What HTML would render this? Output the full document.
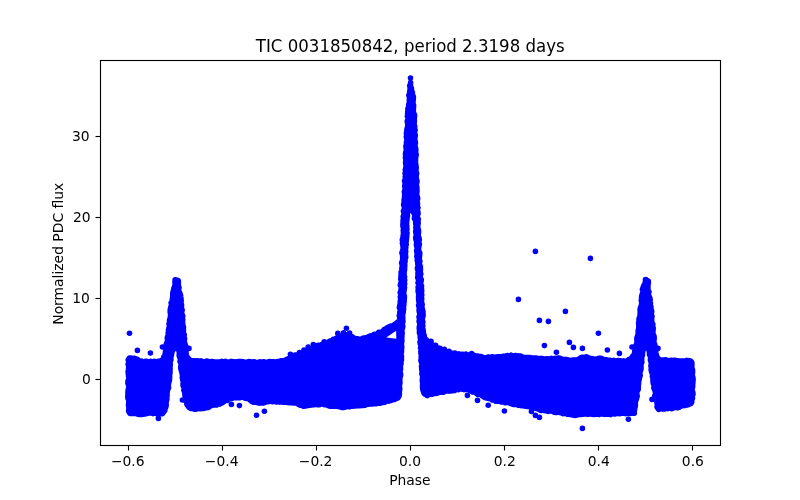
<!DOCTYPE html>
<html lang="en"><head><meta charset="utf-8"><title>TIC 0031850842</title>
<style>html,body{margin:0;padding:0;background:#fff;overflow:hidden}svg{display:block}text{font-family:"DejaVu Sans","Liberation Sans",sans-serif;fill:#000}.t{font-size:13.889px}.ti{font-size:16.667px}</style></head><body>
<svg width="800" height="500" viewBox="0 0 800 500">
<rect x="0" y="0" width="800" height="500" fill="#fff"/>
<g fill="#0000ff" stroke="#0000ff" stroke-width="5.56" stroke-linejoin="round" stroke-linecap="round">
<path d="M128.9,362.3 128.1,364.3 128.8,365.8 128.8,367.4 128.4,370.0 128.1,371.5 128.3,373.3 128.5,375.5 128.8,377.8 129.0,379.4 128.0,380.9 127.9,383.2 128.4,384.5 128.9,386.8 128.4,388.9 128.1,390.7 128.0,392.1 128.0,394.6 127.8,396.2 128.0,398.6 128.9,399.9 128.8,402.1 128.7,404.1 128.5,405.5 129.0,407.7 128.8,409.5 128.6,411.2 129.9,413.4 132.4,413.5 134.5,413.4 136.0,413.4 137.9,414.3 139.6,414.4 141.6,414.5 144.0,414.1 145.6,413.9 147.6,413.2 148.8,412.9 151.5,412.8 153.0,413.7 154.5,412.8 156.8,413.8 159.0,413.3 160.6,413.6 162.4,413.6 163.5,412.3 164.8,410.4 165.0,408.7 165.7,407.2 166.2,405.3 166.0,402.4 166.4,401.1 166.9,398.8 166.7,397.2 167.1,395.5 167.0,393.2 167.1,391.9 167.5,390.2 168.6,387.6 168.0,386.0 168.4,384.5 168.9,381.9 169.5,380.1 169.5,378.7 169.6,376.9 169.6,374.2 170.0,372.9 170.0,370.4 170.1,368.5 169.8,367.0 170.3,364.9 170.1,363.3 170.2,361.4 170.9,359.9 170.7,357.5 171.2,355.9 171.7,353.7 171.8,351.8 172.8,350.4 173.6,349.0 174.2,347.0 176.4,347.8 177.8,348.4 178.6,350.0 179.3,351.5 179.3,353.6 179.2,355.8 179.7,357.0 180.6,359.5 180.0,361.5 181.1,363.4 181.0,365.3 180.7,367.3 180.8,368.3 181.3,370.4 181.9,372.2 182.2,373.9 182.5,375.9 182.3,377.7 182.9,380.5 183.4,382.2 183.0,384.0 183.1,385.8 184.6,387.8 183.8,389.9 184.3,391.2 184.9,392.8 184.9,395.4 185.8,397.2 185.9,398.4 185.9,401.2 186.9,402.5 186.9,404.6 188.2,406.2 189.4,407.7 190.6,408.4 193.1,408.2 194.2,409.3 196.7,409.0 198.4,408.0 200.2,408.7 202.1,408.2 203.7,408.4 205.6,407.8 208.2,407.6 209.4,406.6 210.8,405.8 212.5,405.2 214.2,404.7 216.6,405.0 217.8,404.1 219.9,403.9 221.6,403.1 223.9,401.7 224.8,400.5 227.2,400.5 228.5,399.1 230.3,398.8 231.9,398.4 234.4,397.6 236.2,397.8 237.5,397.5 240.1,397.7 241.5,397.2 243.9,397.1 244.9,398.2 247.5,398.4 249.2,399.2 250.8,400.6 252.2,401.7 253.8,402.3 256.0,402.0 257.7,402.8 259.2,403.1 260.8,402.7 263.3,403.0 265.1,402.3 266.7,401.7 269.2,401.5 270.2,400.9 272.9,401.8 274.6,401.0 276.6,402.0 277.8,401.0 279.6,402.1 282.0,401.9 284.1,402.3 286.1,402.3 287.9,402.6 289.5,402.7 291.1,402.6 293.4,403.0 294.8,402.7 297.4,403.4 298.5,404.4 300.2,405.1 301.9,405.2 303.6,406.3 306.4,405.8 307.6,405.4 309.6,405.2 311.5,405.0 313.7,404.8 315.4,404.3 317.8,404.8 319.0,404.8 321.7,403.9 322.8,404.0 324.6,404.8 326.8,404.7 328.2,405.6 330.5,406.3 332.1,406.0 334.7,406.1 336.5,406.3 338.3,406.5 340.1,406.9 341.7,407.5 344.0,407.4 346.1,406.8 347.4,406.4 349.1,406.8 350.9,406.1 353.3,406.1 354.9,405.9 357.2,405.8 359.4,405.8 360.7,405.3 363.0,405.4 364.8,405.3 366.4,404.4 367.8,404.2 369.6,403.7 372.1,404.0 374.2,403.5 376.1,403.8 377.8,402.9 380.1,403.2 381.4,402.2 383.5,402.5 385.4,402.0 386.7,400.9 388.6,401.1 391.0,400.3 392.6,399.8 394.4,399.5 396.4,398.4 398.1,397.8 399.0,396.1 399.4,394.0 399.0,392.4 399.6,390.4 399.7,388.2 399.3,386.3 399.5,384.8 399.9,383.3 399.8,380.6 399.8,379.0 400.0,377.0 400.6,375.4 400.5,373.6 399.8,371.5 400.5,369.7 400.5,367.8 400.2,365.3 401.0,364.0 400.9,361.6 401.5,359.9 401.3,357.8 401.5,356.3 400.8,354.4 401.4,352.2 401.5,350.3 401.5,348.8 401.8,347.1 401.4,344.7 401.5,343.4 401.9,340.8 401.7,339.6 401.8,337.5 401.9,335.5 402.1,333.7 402.0,331.6 401.6,330.0 402.5,328.0 402.8,326.2 402.1,324.1 402.9,321.9 402.8,320.6 402.7,318.0 402.6,316.0 402.6,314.4 403.2,312.4 403.2,311.0 403.6,308.9 403.2,307.0 403.8,305.4 403.8,303.5 404.2,300.8 404.1,299.7 404.4,297.5 404.2,295.6 403.5,293.8 403.8,292.0 404.1,289.9 404.5,287.6 403.7,285.6 404.7,284.0 404.1,282.1 404.7,280.1 403.9,278.0 404.6,276.9 404.1,275.1 404.0,272.3 404.4,270.7 404.6,268.8 404.6,266.6 404.8,265.3 404.6,263.7 405.1,261.2 404.8,259.1 405.7,257.7 405.6,256.0 405.4,254.0 405.7,251.4 405.4,249.5 405.8,247.7 405.4,246.6 406.3,244.5 405.7,242.1 406.3,240.8 406.5,238.1 406.7,236.5 406.8,234.5 407.0,232.9 406.2,230.9 406.9,229.5 406.7,226.9 406.7,225.5 406.5,223.4 406.7,221.7 406.9,219.4 407.0,217.8 407.5,215.6 406.8,214.3 408.1,211.9 408.3,210.0 408.4,208.3 410.3,208.0 411.6,208.4 412.9,209.1 413.2,210.7 413.8,212.9 414.9,214.9 414.7,216.3 414.4,218.5 415.5,219.9 415.7,222.2 415.7,223.7 416.2,226.3 415.8,227.4 416.2,229.6 415.7,231.3 416.1,233.9 416.7,235.4 415.7,237.2 415.9,239.2 416.5,240.8 416.6,243.5 416.4,245.1 417.0,246.9 417.2,248.8 416.6,250.8 417.0,252.7 417.3,254.1 416.8,256.7 417.7,258.3 417.2,260.1 417.7,261.9 417.8,264.1 418.2,265.4 417.4,268.2 417.6,269.4 418.5,271.9 417.9,273.0 418.1,275.0 417.7,277.7 418.3,278.8 418.6,281.1 418.0,282.9 419.1,284.7 418.1,287.0 418.4,289.0 418.1,290.8 418.4,292.8 419.0,294.3 418.5,296.3 418.7,297.8 418.6,299.6 419.0,301.6 419.2,303.7 418.6,305.5 419.5,307.5 419.1,309.3 419.2,311.7 419.9,313.7 419.7,315.0 419.0,316.9 419.6,319.0 419.1,321.4 419.6,323.0 420.2,324.3 419.3,326.8 419.3,328.9 419.6,330.0 419.4,332.8 420.2,334.6 420.2,335.7 420.3,338.0 420.6,340.1 420.0,342.3 420.4,344.0 421.1,345.9 420.5,348.0 421.4,349.3 420.8,351.8 421.0,353.6 421.4,355.0 421.2,357.0 421.3,358.8 420.9,360.5 421.7,362.9 422.1,364.7 421.5,366.2 421.7,368.2 421.9,370.5 422.3,372.0 421.8,373.8 422.7,376.1 422.6,377.7 422.4,379.3 422.4,381.8 422.9,383.4 422.5,385.6 422.6,387.6 422.9,389.9 423.3,391.0 424.2,393.5 425.5,394.5 427.3,395.6 428.4,394.5 430.5,394.2 432.1,394.3 433.5,393.4 435.5,393.4 437.7,393.1 439.0,391.8 441.4,392.3 443.6,392.2 444.9,390.9 447.5,390.9 448.6,391.1 450.4,390.9 452.3,390.8 454.8,390.4 456.1,389.3 458.2,389.6 459.8,388.9 462.3,389.1 464.1,389.7 465.7,389.2 468.2,389.6 469.6,390.4 471.0,390.4 472.4,392.0 475.1,392.3 476.7,393.5 477.7,394.5 480.5,394.5 481.6,395.2 483.3,396.5 485.0,397.6 486.8,398.1 488.9,398.6 491.0,398.9 492.1,399.9 494.6,400.3 495.5,401.1 498.4,401.1 499.3,401.4 501.6,402.0 504.0,401.7 504.9,402.8 507.2,402.3 509.3,402.8 511.0,403.7 513.1,404.4 514.9,404.5 516.7,403.9 518.4,405.4 520.3,405.0 521.7,405.8 523.6,405.8 525.8,406.3 527.6,406.5 529.4,406.5 531.9,407.6 533.4,407.5 535.1,408.0 536.9,408.6 538.7,409.2 541.1,410.4 542.9,410.1 544.3,410.5 545.9,410.8 548.3,411.4 550.4,410.7 552.5,411.1 554.1,412.2 556.2,412.5 558.1,411.9 559.6,412.6 561.1,412.8 563.0,413.6 564.8,413.0 567.4,414.2 568.4,414.2 570.3,414.6 572.7,414.9 574.5,415.4 576.6,415.0 578.2,414.5 580.6,414.5 582.3,414.3 584.4,414.1 585.8,413.5 587.9,414.3 589.3,413.1 591.0,414.0 593.9,414.5 595.0,414.3 596.8,414.1 599.2,414.4 600.6,413.8 603.2,414.1 604.5,414.1 606.9,414.3 609.0,414.3 610.6,414.6 612.5,413.6 614.6,414.0 616.7,413.3 618.0,413.5 620.2,413.6 622.0,413.1 623.8,413.0 625.6,413.6 627.4,413.2 629.3,413.5 631.3,413.2 634.3,413.1 634.2,411.0 634.5,410.1 634.7,408.2 635.3,406.2 635.3,404.2 635.3,401.7 635.9,400.4 636.4,398.9 637.2,396.1 636.8,394.2 636.8,392.9 637.0,391.0 638.2,389.5 638.2,386.9 638.3,385.6 638.6,383.5 638.6,381.2 639.1,380.0 639.6,377.2 640.2,375.6 639.9,373.5 639.9,371.6 640.9,369.9 641.0,368.1 641.0,366.6 640.9,364.4 641.9,362.3 641.6,361.1 641.7,358.5 641.7,356.9 642.5,354.9 642.4,353.6 642.7,350.9 643.2,350.0 643.9,348.0 645.7,346.7 647.2,347.6 649.0,348.8 649.1,350.8 649.5,352.8 649.5,354.8 650.3,355.8 650.6,357.9 650.4,360.1 650.9,361.4 651.4,363.3 650.9,366.1 651.7,367.1 651.1,369.5 651.5,371.4 652.2,373.1 652.6,375.5 652.4,376.7 653.3,378.8 652.9,380.3 653.2,383.1 653.6,384.3 654.4,386.1 653.8,387.9 654.7,389.7 655.3,391.7 655.7,394.2 654.8,395.6 656.3,397.4 655.6,399.8 656.9,401.5 657.1,403.7 657.6,405.4 657.0,406.9 658.7,409.4 660.3,408.6 662.4,408.9 664.7,409.0 666.6,408.0 667.9,408.6 669.5,407.7 671.6,408.6 674.1,407.6 675.7,407.2 677.1,407.8 679.5,407.2 681.1,405.9 683.1,405.5 684.4,405.6 687.1,404.9 688.6,404.6 690.8,403.5 691.7,402.3 691.7,400.1 692.5,398.2 692.1,396.9 693.0,394.2 692.8,392.4 692.4,390.9 691.9,388.8 692.7,386.8 692.6,384.9 692.8,383.3 692.9,381.3 693.1,379.7 692.9,377.6 692.2,375.3 692.4,373.9 692.6,371.4 692.5,369.8 691.8,367.9 691.8,366.5 691.9,364.0 691.8,362.3 690.9,361.3 689.1,360.8 686.7,360.4 685.5,361.1 682.8,361.0 681.4,361.0 679.7,361.0 677.3,360.8 675.6,360.3 673.4,360.4 671.5,360.2 670.2,360.4 667.8,360.8 665.6,359.8 663.9,360.0 662.1,360.2 660.7,359.9 658.7,359.2 657.3,357.8 656.7,356.2 656.2,354.5 655.8,352.5 655.6,351.1 655.4,349.0 654.8,347.3 654.8,344.5 654.3,343.5 653.7,341.6 654.1,339.7 654.2,337.4 653.9,335.7 652.8,333.5 652.9,331.9 653.0,330.2 653.2,328.0 652.5,325.8 652.9,324.5 651.7,322.0 651.7,320.3 651.6,318.0 652.0,316.4 651.4,314.9 651.5,312.4 651.7,311.0 650.9,308.9 650.9,306.8 650.1,305.2 650.5,303.4 649.6,301.7 650.2,299.9 649.7,297.7 648.7,295.6 648.4,293.6 649.0,291.9 648.0,289.9 647.8,288.1 648.0,286.2 648.0,284.4 648.4,282.9 648.0,281.1 645.9,279.9 645.3,282.1 645.1,283.9 644.1,285.1 643.4,286.7 642.4,289.4 643.1,291.2 642.8,292.9 642.1,294.6 641.6,296.5 641.6,298.2 641.3,300.8 641.9,302.0 641.7,303.8 641.1,306.4 640.4,307.8 640.1,309.4 640.2,311.5 640.1,314.0 640.1,316.0 639.8,317.0 639.0,318.8 639.0,321.5 638.6,322.6 638.8,325.0 638.9,326.3 638.8,328.5 638.2,330.6 638.2,332.4 638.1,334.9 637.6,335.8 636.9,337.8 636.9,339.7 637.0,342.4 636.6,344.1 635.9,345.4 635.5,347.4 635.7,349.3 634.8,350.7 634.6,353.0 634.1,355.0 633.0,355.9 631.8,357.6 630.7,359.9 628.6,359.6 627.5,361.1 625.0,361.2 623.7,360.9 621.5,361.5 619.9,360.7 618.4,360.6 615.6,361.1 613.6,360.4 612.3,361.2 610.1,360.3 608.5,360.6 606.5,359.7 605.0,359.8 603.0,359.2 601.0,358.3 599.4,358.3 597.5,358.7 595.4,359.0 593.6,359.7 592.3,358.5 589.5,358.3 588.2,357.5 586.3,356.7 584.1,357.8 582.5,357.2 580.2,358.1 578.8,359.2 576.8,359.8 575.3,360.2 573.3,359.9 571.4,360.4 569.3,361.1 568.4,359.9 566.2,359.5 563.7,359.6 561.8,359.1 560.3,358.4 558.6,358.0 556.3,358.4 555.1,358.4 553.0,358.9 551.4,358.4 548.6,359.1 547.0,358.8 545.5,359.2 543.1,358.8 541.7,358.4 539.7,358.6 538.1,358.5 535.8,358.1 534.0,358.0 532.1,358.2 530.1,357.5 527.9,357.6 526.3,357.6 524.1,357.4 522.2,356.9 520.5,356.1 518.6,356.0 517.1,355.8 515.1,355.5 512.9,356.3 510.9,355.4 509.1,356.3 507.8,355.6 505.7,356.0 503.9,356.2 501.8,356.5 499.8,356.7 498.2,356.8 495.8,357.1 494.6,357.4 492.1,356.8 490.4,357.3 488.4,357.1 486.7,357.4 484.4,357.7 483.3,357.6 481.4,356.6 478.7,356.3 477.3,356.0 475.8,356.3 473.2,355.0 471.8,355.0 470.1,355.1 467.6,355.0 465.8,354.0 464.4,354.5 462.0,354.3 460.3,354.7 458.9,353.9 456.7,354.4 455.0,353.0 452.8,353.4 451.2,353.4 449.3,353.0 447.4,352.6 445.6,351.9 443.5,350.5 442.3,350.4 440.3,349.2 438.3,348.2 436.9,347.5 435.3,346.6 433.9,345.8 432.3,344.7 430.4,343.1 429.0,342.8 427.9,341.3 426.4,339.9 424.7,338.5 424.3,336.4 424.0,334.9 422.9,333.4 423.4,331.6 422.9,329.2 422.4,327.7 422.8,325.6 422.4,324.1 422.9,322.1 422.2,319.5 422.2,317.5 423.1,316.3 423.0,314.2 423.0,311.8 422.7,310.5 422.3,308.9 421.7,307.0 422.2,304.5 421.6,302.4 421.5,301.0 421.7,298.5 421.3,297.2 421.8,294.7 421.1,293.7 421.7,291.2 421.5,289.4 421.3,287.1 421.6,285.9 420.4,284.0 420.9,282.1 421.3,279.5 420.3,278.3 420.0,276.6 420.8,273.9 420.2,272.3 420.4,270.3 420.4,268.7 420.4,266.9 419.4,264.4 419.5,263.1 419.9,261.0 419.0,259.3 419.4,257.4 419.6,254.9 419.8,253.1 418.9,251.3 418.6,249.3 418.5,247.5 419.0,246.0 419.4,244.2 418.6,242.1 419.3,239.8 419.0,237.8 418.2,236.5 418.2,234.0 418.5,232.7 418.5,230.3 417.9,228.4 417.7,226.9 417.8,225.1 418.2,222.9 417.8,221.1 418.3,219.2 417.2,216.9 417.2,215.9 418.1,213.5 417.7,211.3 417.1,209.5 418.0,207.8 417.1,205.6 417.6,203.6 416.8,201.9 417.3,200.4 417.7,198.5 417.2,196.7 416.7,195.0 416.8,192.7 417.0,191.0 416.8,188.6 416.8,186.9 416.2,185.0 416.6,183.4 417.0,181.1 416.4,178.9 416.1,177.7 416.2,175.2 416.7,173.2 415.9,171.7 416.0,169.4 416.2,167.9 416.0,166.0 415.6,163.8 415.4,162.0 415.5,160.8 415.5,158.5 415.8,156.8 416.2,154.3 415.6,153.0 415.8,150.5 415.7,148.6 415.3,147.3 414.8,145.0 415.5,142.9 415.0,141.1 414.7,139.6 415.0,137.2 415.3,135.2 414.5,134.1 414.6,132.1 415.1,130.0 414.3,127.8 414.8,126.5 413.9,124.0 414.3,122.0 414.3,120.6 414.2,118.9 414.5,116.9 414.5,114.9 413.6,112.9 413.2,110.9 413.4,108.7 413.5,106.8 413.6,105.0 412.7,103.4 413.1,101.4 413.2,99.3 413.4,97.3 413.2,96.1 412.0,94.3 412.4,92.5 411.4,90.2 411.4,88.0 410.6,86.8 409.7,85.5 410.1,87.5 410.1,90.2 409.7,91.6 409.6,93.7 408.8,95.2 409.5,97.0 409.4,99.3 409.4,100.6 409.3,102.9 408.7,104.9 408.6,107.1 407.9,108.8 408.0,110.6 407.7,112.0 407.7,114.3 407.4,116.5 408.4,117.7 407.7,119.8 407.2,121.6 407.8,123.7 407.8,125.3 407.3,128.1 406.9,129.4 406.9,131.1 406.4,133.6 407.1,135.5 406.3,136.6 406.9,139.2 407.0,140.7 406.4,142.5 406.6,144.3 405.9,146.2 406.2,148.8 406.4,150.6 405.7,152.4 405.5,154.4 405.8,155.9 405.4,157.6 406.1,160.0 405.6,161.7 405.7,163.4 406.1,165.7 406.0,167.0 405.3,169.9 405.8,171.5 405.1,173.3 405.7,175.2 405.2,176.6 405.6,178.4 404.5,181.0 405.3,182.9 405.0,184.2 404.7,186.7 405.4,188.4 404.8,190.4 404.3,191.7 404.9,194.4 404.6,196.3 404.5,197.9 404.1,200.0 404.2,201.7 403.8,203.7 403.6,205.0 404.5,207.1 404.2,209.5 403.4,211.1 404.2,213.0 403.8,215.0 403.2,216.7 403.5,218.9 403.1,220.5 403.1,222.7 402.9,224.5 403.0,226.6 403.6,228.2 403.3,230.4 403.4,231.9 403.5,233.8 403.1,236.2 402.9,238.1 402.3,239.9 403.1,242.0 402.4,243.1 402.9,245.4 403.1,246.9 403.1,249.0 402.4,251.3 401.9,252.8 402.5,254.4 402.7,257.0 402.7,258.5 402.7,260.3 401.6,262.8 402.2,264.7 402.3,266.5 401.8,268.2 402.1,269.9 401.1,272.3 401.2,274.1 401.0,275.4 401.0,277.7 400.7,279.2 401.4,281.2 401.0,282.8 400.3,285.3 401.3,286.9 401.1,289.5 401.0,290.6 400.2,292.7 401.0,294.7 400.3,297.0 400.9,298.1 400.3,300.9 400.3,302.0 400.1,304.4 399.7,305.9 399.4,307.8 400.4,309.7 400.0,311.3 399.6,314.0 399.3,315.7 399.9,317.7 399.5,319.6 398.8,321.6 397.4,322.3 396.3,323.5 394.3,324.7 393.1,325.6 391.3,326.0 389.5,326.6 387.2,327.8 386.0,328.7 383.9,329.8 383.1,331.3 381.0,332.2 378.7,332.3 377.6,333.7 375.8,334.5 374.3,334.3 372.2,335.9 370.7,335.8 368.7,336.6 366.8,337.6 365.0,337.9 363.4,338.1 361.3,339.0 360.0,339.7 357.7,338.7 355.6,338.5 353.9,338.1 352.4,336.9 350.8,336.2 349.3,335.7 348.0,334.8 346.0,334.8 344.0,335.2 342.0,335.7 339.8,336.8 338.4,337.7 336.3,338.2 335.4,338.9 333.3,339.3 331.3,341.1 329.8,341.1 327.8,342.3 326.8,343.2 324.2,344.0 322.4,344.2 321.1,344.8 319.5,345.4 317.6,345.4 315.3,346.7 313.8,347.9 311.8,348.4 310.1,349.3 308.5,350.4 307.2,350.2 305.2,351.2 304.0,352.6 302.1,352.7 299.7,353.7 298.7,355.0 296.2,355.1 294.9,355.1 292.7,357.0 291.8,357.4 289.9,358.5 287.9,358.7 286.7,359.5 284.1,360.8 282.4,360.9 280.9,360.8 278.4,361.8 277.0,361.6 274.6,362.1 273.3,361.8 271.3,361.7 269.4,361.6 267.9,362.2 265.4,362.3 264.0,361.7 261.7,362.6 259.9,361.7 257.8,362.6 255.7,362.5 254.2,361.7 251.9,362.3 250.0,361.8 248.7,361.6 246.2,362.4 244.8,362.3 242.9,361.8 240.8,361.5 239.2,361.5 237.3,361.8 235.5,362.1 233.6,361.7 231.2,361.4 229.5,361.9 227.5,362.3 225.4,361.3 223.4,361.9 221.7,361.4 220.0,362.0 217.7,362.1 216.4,362.1 214.2,361.9 212.0,361.5 210.0,362.1 208.2,361.4 206.6,361.1 204.5,362.0 203.2,361.8 200.8,360.9 198.6,361.3 197.4,360.7 195.0,361.0 193.4,360.7 191.4,360.8 189.5,360.1 188.7,358.6 187.4,357.9 186.5,355.3 186.0,353.4 186.0,351.8 185.5,350.3 185.4,348.5 185.7,346.3 185.2,344.5 184.4,342.5 184.3,340.6 184.6,338.6 183.8,337.0 184.3,334.5 183.3,333.6 183.4,330.9 183.3,329.0 183.5,327.0 182.9,325.6 182.7,323.9 182.5,322.0 182.7,319.5 182.2,317.5 182.8,315.8 181.9,314.6 181.7,311.8 182.2,309.9 181.1,308.1 181.5,306.5 181.5,304.5 180.8,302.7 181.2,300.9 181.1,299.5 180.7,296.8 180.6,295.6 179.9,293.4 179.0,291.2 178.5,289.3 179.0,287.8 178.4,285.5 178.1,284.1 178.4,282.0 177.4,280.4 175.5,280.8 174.9,282.4 175.3,283.9 174.6,286.3 173.9,288.4 173.8,289.5 173.2,291.4 172.8,293.4 172.8,295.8 172.7,297.2 172.3,299.5 172.3,301.1 171.1,302.8 171.6,304.6 171.0,306.5 170.5,308.4 170.2,310.0 170.2,312.5 170.7,314.2 170.4,316.3 170.4,318.3 169.6,319.5 169.5,322.2 169.0,324.1 169.8,325.2 169.1,327.4 168.5,329.8 168.5,331.7 168.2,332.9 168.3,335.0 167.4,337.2 167.3,338.2 167.6,340.8 167.1,342.5 166.2,344.5 167.2,346.1 166.9,348.1 165.8,350.0 165.5,351.3 165.3,353.6 164.9,355.6 163.8,356.9 163.5,358.9 162.2,360.0 160.1,361.0 158.3,361.2 156.4,362.1 154.6,361.2 153.0,362.2 150.8,361.3 148.7,362.2 146.8,361.3 145.1,361.4 143.6,362.2 141.4,361.1 138.9,361.2 137.7,359.6 136.6,359.1 134.5,358.3 132.4,358.6 131.1,358.1 129.4,358.1 128.2,359.8Z M410.6,82.4 L410.4,85 L410.9,88 L410.7,93 L411,99 M175.6,280.2 L176.6,283 L176.2,287 L176.5,292 M646,279.8 L646.8,283 L646.3,287 L646.4,292"/>
</g>
<polygon points="386.3,337.6 396.1,330.8 396.3,338.8" fill="#fff"/>
<g fill="#0000ff" stroke="none">
<circle cx="129.5" cy="333.3" r="2.78"/>
<circle cx="137.4" cy="350.4" r="2.78"/>
<circle cx="150.4" cy="353.0" r="2.78"/>
<circle cx="162.4" cy="347.0" r="2.78"/>
<circle cx="189.0" cy="348.4" r="2.78"/>
<circle cx="158.4" cy="418.4" r="2.78"/>
<circle cx="182.4" cy="400.0" r="2.78"/>
<circle cx="231.4" cy="404.4" r="2.78"/>
<circle cx="239.4" cy="405.6" r="2.78"/>
<circle cx="256.5" cy="415.2" r="2.78"/>
<circle cx="264.4" cy="411.2" r="2.78"/>
<circle cx="290.4" cy="354.2" r="2.78"/>
<circle cx="337.8" cy="333.4" r="2.78"/>
<circle cx="346.4" cy="328.3" r="2.78"/>
<circle cx="535.4" cy="251.4" r="2.78"/>
<circle cx="590.4" cy="258.4" r="2.78"/>
<circle cx="518.4" cy="299.4" r="2.78"/>
<circle cx="565.4" cy="311.4" r="2.78"/>
<circle cx="539.4" cy="320.4" r="2.78"/>
<circle cx="548.4" cy="321.4" r="2.78"/>
<circle cx="598.4" cy="333.3" r="2.78"/>
<circle cx="569.4" cy="342.4" r="2.78"/>
<circle cx="544.4" cy="345.6" r="2.78"/>
<circle cx="556.4" cy="352.2" r="2.78"/>
<circle cx="573.4" cy="347.4" r="2.78"/>
<circle cx="582.4" cy="348.4" r="2.78"/>
<circle cx="607.4" cy="350.0" r="2.78"/>
<circle cx="619.4" cy="353.4" r="2.78"/>
<circle cx="632.0" cy="347.0" r="2.78"/>
<circle cx="658.0" cy="348.4" r="2.78"/>
<circle cx="652.0" cy="399.4" r="2.78"/>
<circle cx="628.4" cy="419.2" r="2.78"/>
<circle cx="582.4" cy="428.4" r="2.78"/>
<circle cx="467.4" cy="395.4" r="2.78"/>
<circle cx="477.5" cy="400.4" r="2.78"/>
<circle cx="488.2" cy="405.2" r="2.78"/>
<circle cx="504.4" cy="411.0" r="2.78"/>
<circle cx="531.4" cy="411.4" r="2.78"/>
<circle cx="535.4" cy="415.4" r="2.78"/>
<circle cx="539.4" cy="417.4" r="2.78"/>
<circle cx="645.5" cy="279.5" r="2.78"/>
<circle cx="648.2" cy="281.2" r="2.78"/>
<circle cx="410.5" cy="78.0" r="2.78"/>
<circle cx="175.2" cy="279.8" r="2.78"/>
<circle cx="178.2" cy="280.8" r="2.78"/>
<circle cx="431.0" cy="341.2" r="2.78"/>
<circle cx="435.6" cy="345.2" r="2.78"/>
<circle cx="440.0" cy="348.2" r="2.78"/>
<circle cx="444.4" cy="349.4" r="2.78"/>
<circle cx="449.0" cy="351.2" r="2.78"/>
<circle cx="471.6" cy="353.6" r="2.78"/>
<circle cx="511.0" cy="355.4" r="2.78"/>
<circle cx="349.6" cy="333.0" r="2.78"/>
<circle cx="343.5" cy="332.8" r="2.78"/>
<circle cx="299.5" cy="352.6" r="2.78"/>
<circle cx="304.0" cy="350.0" r="2.78"/>
<circle cx="308.2" cy="347.0" r="2.78"/>
<circle cx="313.3" cy="344.6" r="2.78"/>
<circle cx="324.2" cy="341.8" r="2.78"/>
</g>
<rect x="100.5" y="60.5" width="620" height="385" fill="none" stroke="#000" stroke-width="1.111" stroke-linejoin="miter"/>
<g stroke="#000" stroke-width="1.111">
<line x1="128.5" y1="445.5" x2="128.5" y2="450.5"/>
<line x1="222.5" y1="445.5" x2="222.5" y2="450.5"/>
<line x1="316.5" y1="445.5" x2="316.5" y2="450.5"/>
<line x1="410.5" y1="445.5" x2="410.5" y2="450.5"/>
<line x1="504.5" y1="445.5" x2="504.5" y2="450.5"/>
<line x1="598.5" y1="445.5" x2="598.5" y2="450.5"/>
<line x1="692.5" y1="445.5" x2="692.5" y2="450.5"/>
<line x1="100.5" y1="379.5" x2="95.5" y2="379.5"/>
<line x1="100.5" y1="298.5" x2="95.5" y2="298.5"/>
<line x1="100.5" y1="217.5" x2="95.5" y2="217.5"/>
<line x1="100.5" y1="136.5" x2="95.5" y2="136.5"/>
</g>
<text class="t" x="127.73" y="465.65" text-anchor="middle">−0.6</text>
<text class="t" x="221.67" y="465.65" text-anchor="middle">−0.4</text>
<text class="t" x="315.61" y="465.65" text-anchor="middle">−0.2</text>
<text class="t" x="410.05" y="465.65" text-anchor="middle">0.0</text>
<text class="t" x="504.74" y="465.65" text-anchor="middle">0.2</text>
<text class="t" x="598.68" y="465.65" text-anchor="middle">0.4</text>
<text class="t" x="692.87" y="465.65" text-anchor="middle">0.6</text>
<text class="t" x="90.80" y="383.67" text-anchor="end">0</text>
<text class="t" x="89.80" y="302.65" text-anchor="end">10</text>
<text class="t" x="90.55" y="221.63" text-anchor="end">20</text>
<text class="t" x="89.55" y="140.61" text-anchor="end">30</text>
<text class="t" x="409.9" y="484.65" text-anchor="middle">Phase</text>
<text class="t" x="63" y="253.75" text-anchor="middle" transform="rotate(-90 63 253.75)">Normalized PDC flux</text>
<text class="ti" x="0" y="0" text-anchor="middle" transform="translate(410.25 51.5) scale(0.997 1.08)">TIC 0031850842, period 2.3198 days</text>
</svg></body></html>
